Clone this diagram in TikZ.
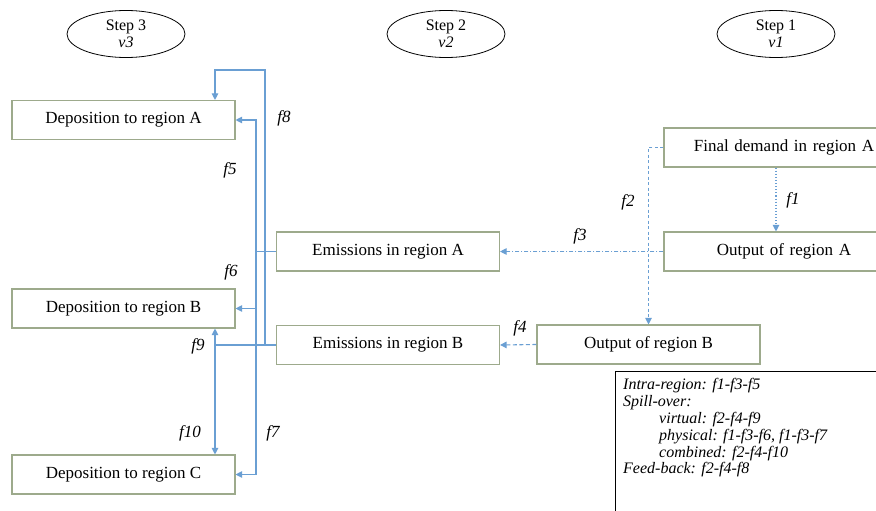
\documentclass[tikz,border=0pt]{standalone}
\usepackage{fontspec}
\setmainfont{Liberation Serif}
\usetikzlibrary{arrows.meta,shapes.geometric}
\definecolor{flowblue}{HTML}{6A9FD3}
\definecolor{boxline}{HTML}{9DAA8C}
\tikzset{
  box/.style={draw=boxline, line width=1.1pt, fill=white, minimum height=39pt, inner sep=0pt, font=\fontsize{17}{19}\selectfont},
  depbox/.style={box, minimum width=223pt},
  stepell/.style={draw=black, ellipse, line width=0.8pt, minimum width=118pt, minimum height=47pt, inner sep=0pt, align=center, font=\fontsize{16}{17}\selectfont},
  flow/.style={draw=flowblue, line width=1.1pt},
  flowarr/.style={flow, -{Triangle[width=6.5pt,length=6.5pt]}},
  flab/.style={font=\fontsize{17}{19}\selectfont\itshape, inner sep=0pt},
  leg/.style={anchor=west, inner sep=0pt, font=\fontsize{16}{17}\selectfont\itshape}
}
\begin{document}
\begin{tikzpicture}[x=1pt,y=-1pt]
\useasboundingbox (0,0) rectangle (876,511);
\clip (0,0) rectangle (876,511);
\fill[white] (0,0) rectangle (876,511);

% step ellipses
\node[stepell] (s3) at (126,34) {Step 3\\\textit{v3}};
\node[stepell] (s2) at (446,34) {Step 2\\\textit{v2}};
\node[stepell] (s1) at (776,34) {Step 1\\\textit{v1}};

% boxes
\node[depbox] (DA) at (123.5,120) {Deposition to region A};
\node[depbox] (DB) at (123.5,308.5) {Deposition to region B};
\node[depbox] (DC) at (123.5,474.5) {Deposition to region C};
\node[depbox] (EA) at (388,251.5) {Emissions in region A};
\node[depbox] (EB) at (388,345) {Emissions in region B};
\node[depbox] (OB) at (648.5,344.5) {Output of region B};
\node[box, minimum width=240pt, text width=222pt, align=center] (OA) at (784,251.5) {Output of region A};
\node[box, minimum width=240pt, text width=222pt, align=center] (FD) at (784,147.5) {Final demand in region A};

% coordinates for junctions
\coordinate (ja) at (256,251.5);
\coordinate (jb) at (265,345);
\coordinate (jc) at (215,345);
\coordinate (jt) at (265,70);
\coordinate (jtl) at (215,70);
\coordinate (jf) at (776,147.5);

% step 1 flows
\draw[flowarr, dotted] (FD.south -| jf) -- (OA.north -| jf);
\draw[flowarr, dash pattern=on 3pt off 2.5pt] (FD.west) -| (OB.north);
\draw[flowarr, dash pattern=on 4pt off 2pt on 1pt off 2pt] (OA.west) -- (EA.east);
\draw[flowarr, dash pattern=on 4pt off 2.5pt] (OB.west) -- (EB.east);

% emissions A to depositions
\draw[flow] (EA.west) -- (ja);
\draw[flowarr] (ja) |- (DA.east);
\draw[flowarr] (ja) |- (DB.east);
\draw[flowarr] (ja) |- (DC.east);

% emissions B to depositions
\draw[flow] (EB.west) -- (jc);
\draw[flowarr] (jc) -- (DB.south -| jc);
\draw[flowarr] (jc) -- (DC.north -| jc);
\draw[flowarr] (jb) -- (jt) -- (jtl) -- (DA.north -| jtl);

% labels
\node[flab] (l1) at (793,200) {f1};
\node[flab] (l2) at (628,202) {f2};
\node[flab] (l3) at (580,236) {f3};
\node[flab] (l4) at (520,328) {f4};
\node[flab] (l5) at (230,170) {f5};
\node[flab] (l6) at (231,272) {f6};
\node[flab] (l7) at (273,433) {f7};
\node[flab] (l8) at (284,118) {f8};
\node[flab] (l9) at (198,346) {f9};
\node[flab] (l10) at (190,433) {f10};

% legend
\draw[black, line width=0.8pt, fill=white] (615,371) rectangle (900,530);
\node[leg] (g1) at (623,386) {Intra-region: f1-f3-f5};
\node[leg] (g2) at (623,403) {Spill-over:};
\node[leg] (g3) at (659,420) {virtual: f2-f4-f9};
\node[leg] (g4) at (659,437) {physical: f1-f3-f6, f1-f3-f7};
\node[leg] (g5) at (659,454) {combined: f2-f4-f10};
\node[leg] (g6) at (623,470) {Feed-back: f2-f4-f8};
\end{tikzpicture}
\end{document}
